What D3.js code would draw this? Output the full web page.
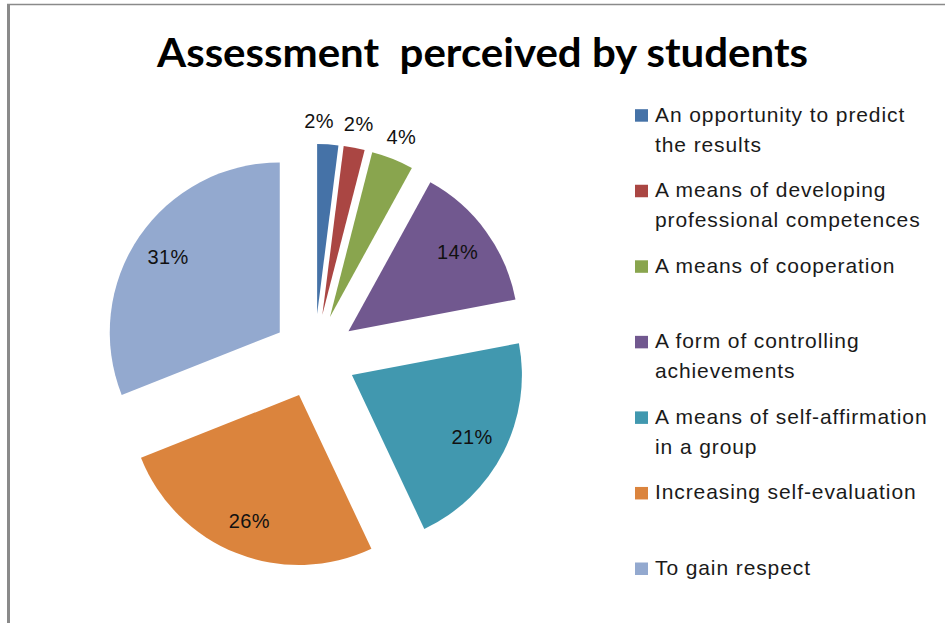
<!DOCTYPE html>
<html><head><meta charset="utf-8">
<script src="https://cdn.jsdelivr.net/npm/d3@7"></script>
<style>
body{margin:0;background:#fff;}
text{font-family:"Liberation Sans",Arial,sans-serif;}
</style>
</head><body>
<svg id="chart" width="945" height="623"></svg>
<script>
// ---- data ----
const title = "Assessment  perceived by students";
const categories = [
  "An opportunity to predict\nthe results",
  "A means of developing\nprofessional competences",
  "A means of cooperation",
  "A form of controlling\nachievements",
  "A means of self-affirmation\nin a group",
  "Increasing self-evaluation",
  "To gain respect"
];
const values = [2, 2, 4, 14, 21, 26, 31];
const colors = ["#4572A7", "#AA4643", "#89A54E", "#71588F", "#4198AF", "#DB843D", "#93A9CF"];

// ---- layout ----
const svg = d3.select("#chart");
const W = 945, H = 623;
const cx = 314.5, cy = 356, R = 170, explode = 42;

// frame
svg.append("line").attr("x1", 7).attr("x2", W).attr("y1", 4.5).attr("y2", 4.5)
  .attr("stroke", "#8a8a8a").attr("stroke-width", 1.5);
svg.append("line").attr("x1", 8.5).attr("x2", 8.5).attr("y1", 4).attr("y2", H)
  .attr("stroke", "#8a8a8a").attr("stroke-width", 3);

// title
svg.append("text").attr("x", 157).attr("y", 66.5)
  .style("font-family", "Lato,'Liberation Sans',Arial,sans-serif")
  .attr("font-size", 41).attr("font-weight", "bold").attr("fill", "#000")
  .style("white-space", "pre")
  .attr("textLength", 651).attr("lengthAdjust", "spacingAndGlyphs")
  .text(title);

// pie
const pie = d3.pie().sort(null).value(d => d).startAngle(0).endAngle(2 * Math.PI);
const arcs = pie(values);
const arc = d3.arc().innerRadius(0).outerRadius(R);
const total = d3.sum(values);
const fmt = v => d3.format(".0%")(v / total);
const mid = d => (d.startAngle + d.endAngle) / 2;

const g = svg.append("g").attr("transform", `translate(${cx},${cy})`);
g.selectAll("path.slice").data(arcs).enter().append("path")
  .attr("class", "slice")
  .attr("transform", d => `translate(${explode * Math.sin(mid(d))},${-explode * Math.cos(mid(d))})`)
  .attr("d", arc).attr("fill", (d, i) => colors[i]);

// label positions (outside for small slices), with simple left-push collision
const labelPos = arcs.map(d => {
  const m = mid(d);
  const outside = d.data < 5;
  const r = outside ? explode + R + 24 : explode + 135;
  return { d, outside, x: r * Math.sin(m), y: -r * Math.cos(m), text: fmt(d.data) };
});
const lbl = g.selectAll("text.lbl").data(labelPos).enter().append("text")
  .attr("class", "lbl")
  .attr("text-anchor", "middle").attr("dy", "0.36em")
  .attr("font-size", 20).attr("letter-spacing", "0.4px").attr("fill", "#111")
  .text(p => p.text);
lbl.each(function (p) { p.w = this.getComputedTextLength(); });
const outs = labelPos.filter(p => p.outside);
for (let i = outs.length - 2; i >= 0; i--) {
  const a = outs[i], b = outs[i + 1];
  const gap = (b.x - b.w / 2) - (a.x + a.w / 2);
  if (gap < 10) a.x -= (10 - gap);
}
lbl.attr("x", p => p.x).attr("y", p => p.y);

// legend
const lg = svg.append("g");
const legendTop = 121.7, legendStep = 75.55, lineH = 30;
categories.forEach((c, i) => {
  const y = legendTop + i * legendStep;
  lg.append("rect").attr("x", 635).attr("y", y - 12.5).attr("width", 13).attr("height", 12.5)
    .attr("fill", colors[i]);
  const t = lg.append("text").attr("x", 655).attr("y", y).attr("font-size", 21)
    .attr("letter-spacing", "0.9px").attr("fill", "#1a1a1a");
  c.split("\n").forEach((line, j) => {
    t.append("tspan").attr("x", 655).attr("y", y + j * lineH).text(line);
  });
});
</script>
</body></html>
